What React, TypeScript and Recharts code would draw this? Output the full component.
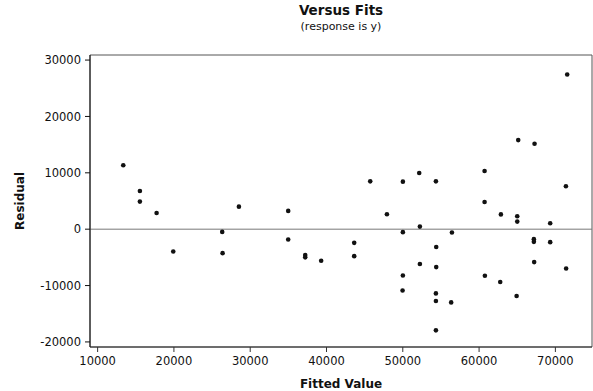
import { ScatterChart, Scatter, XAxis, YAxis, ReferenceLine, ReferenceArea, Label } from 'recharts';

type Point = { fit: number; resid: number };

// fitted values and residuals
const fitted = [
  13360, 15540, 15540, 17730, 19910, 26330, 26380, 28520, 34980, 34980,
  37210, 37210, 39300, 43630, 43630, 45730, 47920, 50010, 50010, 50010,
  49970, 52150, 52240, 52240, 54340, 54380, 54380, 54340, 54340, 54340,
  56440, 56340, 60720, 60720, 60760, 62860, 62770, 65130, 65000, 65000,
  64920, 67270, 67180, 67180, 67220, 69320, 69320, 71550, 71380, 71410,
];
const residuals = [
  11330, 6780, 4890, 2880, -3960, -480, -4250, 4000, 3240, -1840,
  -4600, -5000, -5610, -2420, -4780, 8490, 2650, 8430, -530, -8210,
  -10870, 9960, 460, -6170, 8490, -3150, -6730, -11390, -12740, -17950,
  -600, -12990, 10320, 4830, -8270, 2620, -9380, 15800, 2300, 1350,
  -11860, 15150, -1770, -2250, -5840, 1060, -2300, 27430, 7610, -6970,
];
const xTicks = [10000, 20000, 30000, 40000, 50000, 60000, 70000];
const yTicks = [-20000, -10000, 0, 10000, 20000, 30000];
const X_DOMAIN: [number, number] = [9000, 74800];
const Y_DOMAIN: [number, number] = [-20900, 30900];

const data: Point[] = fitted.map((f, i) => ({ fit: f, resid: residuals[i] }));

const FONT = '"DejaVu Sans", Verdana, sans-serif';

const Dot = (props: any) => <circle cx={props.cx} cy={props.cy} r={2.3} fill="#111" />;

export default function App() {
  return (
    <div style={{ position: 'absolute', left: 0, top: 0, width: 593, height: 391, background: '#fff', fontFamily: FONT }}>
      <div style={{ position: 'absolute', left: 90, width: 502, top: 2, textAlign: 'center', fontWeight: 'bold', fontSize: 13.5, color: '#111' }}>
        Versus Fits
      </div>
      <div style={{ position: 'absolute', left: 90, width: 502, top: 20, textAlign: 'center', fontSize: 11, color: '#111' }}>
        (response is y)
      </div>
      <ScatterChart width={593} height={391} margin={{ top: 55, right: 1, bottom: 0, left: 0 }}>
        <XAxis
          type="number"
          dataKey="fit"
          domain={X_DOMAIN}
          ticks={xTicks}
          allowDataOverflow
          height={44}
          tickSize={5}
          tickMargin={5}
          stroke="#333"
          tick={{ fill: '#111', fontSize: 11.5, fontFamily: FONT }}
        >
          <Label value="Fitted Value" position="insideBottom" offset={3} style={{ fontWeight: 'bold', fontSize: 12, fill: '#111', fontFamily: FONT }} />
        </XAxis>
        <YAxis
          type="number"
          dataKey="resid"
          domain={Y_DOMAIN}
          ticks={yTicks}
          allowDataOverflow
          width={90}
          tickSize={5}
          tickMargin={4}
          stroke="#111"
          tick={{ fill: '#111', fontSize: 11.5, fontFamily: FONT }}
        >
          <Label value="Residual" angle={-90} position="insideLeft" offset={20} style={{ textAnchor: 'middle', fontWeight: 'bold', fontSize: 12, fill: '#111', fontFamily: FONT }} />
        </YAxis>
        <ReferenceArea x1={X_DOMAIN[0]} x2={X_DOMAIN[1]} y1={Y_DOMAIN[0]} y2={Y_DOMAIN[1]} fill="none" stroke="#555" strokeWidth={1} />
        <ReferenceLine y={0} stroke="#777" strokeWidth={1} />
        <Scatter data={data} shape={<Dot />} isAnimationActive={false} />
      </ScatterChart>
    </div>
  );
}
